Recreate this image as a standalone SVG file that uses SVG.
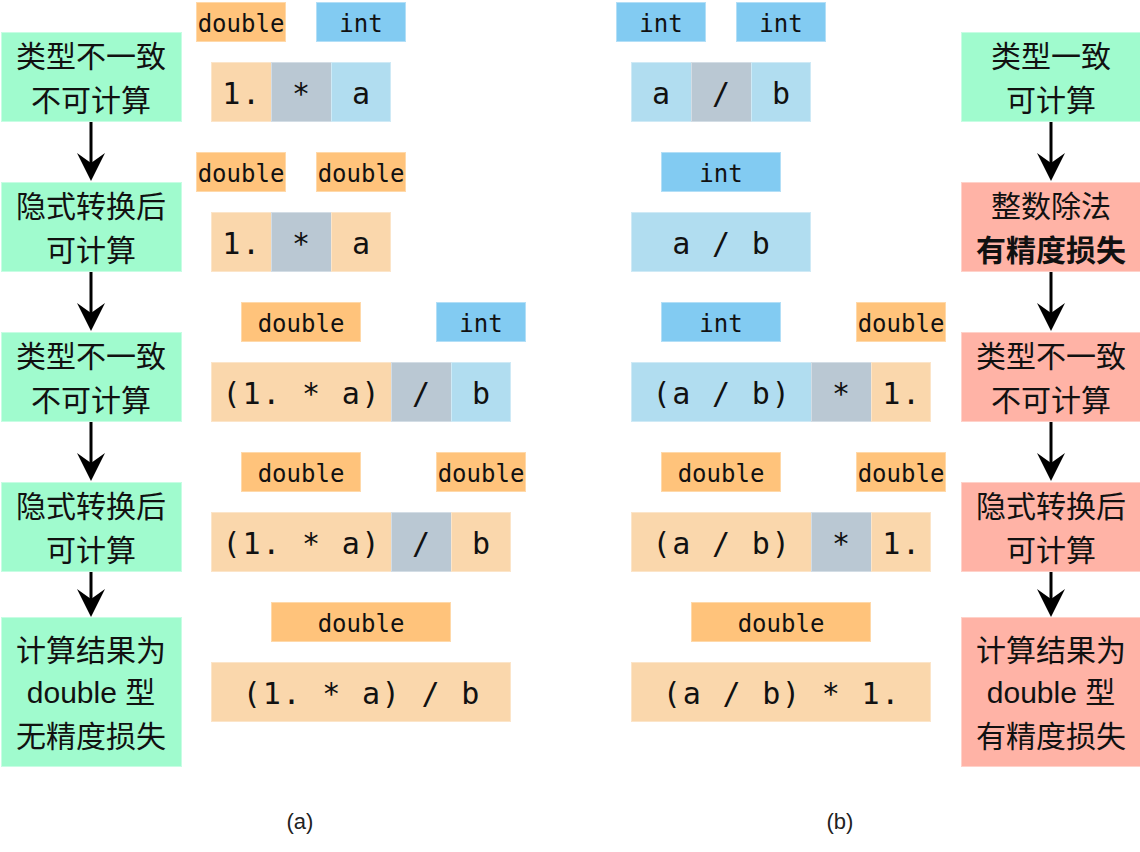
<svg xmlns="http://www.w3.org/2000/svg" width="1140" height="852" viewBox="0 0 1140 852">
<defs>
<style>
.g{fill:#a0fbce;stroke:#c8fde4;stroke-width:1}
.r{fill:#ffb3a6;stroke:#ffd2ca;stroke-width:1}
.to{fill:#ffc37b;stroke:#ffd9aa;stroke-width:1}
.tb{fill:#82cbf2;stroke:#b3dff7;stroke-width:1}
.eo{fill:#fad7ac;stroke:#fce5c9;stroke-width:1}
.eb{fill:#b1ddf0;stroke:#cfeaf6;stroke-width:1}
.eg{fill:#bac8d3;stroke:#d3dde5;stroke-width:1}
.cn{font-family:"Liberation Sans","Noto Sans CJK SC",sans-serif;font-size:30px;fill:#111;text-anchor:middle}
.b{font-weight:bold}
.tt{font-family:"DejaVu Sans Mono",monospace;font-size:24px;fill:#111;text-anchor:middle}
.ex{font-family:"DejaVu Sans Mono",monospace;font-size:30px;letter-spacing:1.8px;fill:#111;text-anchor:middle}
.cap{font-family:"Liberation Sans",sans-serif;font-size:22px;fill:#222;text-anchor:middle}
.ln{stroke:#000;stroke-width:3;fill:none}
</style>
</defs>
<rect width="1140" height="852" fill="#fff"/>

<g id="connectors">
<line class="ln" x1="91" y1="121" x2="91" y2="167"/><path d="M91,181 L77,153 L91,163 L105,153 Z"/>
<line class="ln" x1="91" y1="271" x2="91" y2="317"/><path d="M91,331 L77,303 L91,313 L105,303 Z"/>
<line class="ln" x1="91" y1="421" x2="91" y2="467"/><path d="M91,481 L77,453 L91,463 L105,453 Z"/>
<line class="ln" x1="91" y1="571" x2="91" y2="603"/><path d="M91,617 L77,589 L91,599 L105,589 Z"/>
<line class="ln" x1="1051" y1="121" x2="1051" y2="167"/><path d="M1051,181 L1037,153 L1051,163 L1065,153 Z"/>
<line class="ln" x1="1051" y1="271" x2="1051" y2="317"/><path d="M1051,331 L1037,303 L1051,313 L1065,303 Z"/>
<line class="ln" x1="1051" y1="421" x2="1051" y2="467"/><path d="M1051,481 L1037,453 L1051,463 L1065,453 Z"/>
<line class="ln" x1="1051" y1="571" x2="1051" y2="603"/><path d="M1051,617 L1037,589 L1051,599 L1065,589 Z"/>
</g>

<g id="a-step1"><rect class="g" x="1.5" y="32.5" width="180" height="89"/><text class="cn" x="91" y="67">类型不一致</text><text class="cn" x="91" y="111">不可计算</text></g>
<g id="a-step2"><rect class="g" x="1.5" y="182.5" width="180" height="89"/><text class="cn" x="91" y="217">隐式转换后</text><text class="cn" x="91" y="261">可计算</text></g>
<g id="a-step3"><rect class="g" x="1.5" y="332.5" width="180" height="89"/><text class="cn" x="91" y="367">类型不一致</text><text class="cn" x="91" y="411">不可计算</text></g>
<g id="a-step4"><rect class="g" x="1.5" y="482.5" width="180" height="89"/><text class="cn" x="91" y="517">隐式转换后</text><text class="cn" x="91" y="561">可计算</text></g>
<g id="a-step5"><rect class="g" x="1.5" y="617.5" width="180" height="149"/><text class="cn" x="91" y="661">计算结果为</text><text class="cn" x="91" y="703">double 型</text><text class="cn" x="91" y="747">无精度损失</text></g>

<g id="b-step1"><rect class="g" x="961.5" y="32.5" width="180" height="89"/><text class="cn" x="1051" y="67">类型一致</text><text class="cn" x="1051" y="111">可计算</text></g>
<g id="b-step2"><rect class="r" x="961.5" y="182.5" width="180" height="89"/><text class="cn" x="1051" y="217">整数除法</text><text class="cn b" x="1051" y="261">有精度损失</text></g>
<g id="b-step3"><rect class="r" x="961.5" y="332.5" width="180" height="89"/><text class="cn" x="1051" y="367">类型不一致</text><text class="cn" x="1051" y="411">不可计算</text></g>
<g id="b-step4"><rect class="r" x="961.5" y="482.5" width="180" height="89"/><text class="cn" x="1051" y="517">隐式转换后</text><text class="cn" x="1051" y="561">可计算</text></g>
<g id="b-step5"><rect class="r" x="961.5" y="617.5" width="180" height="149"/><text class="cn" x="1051" y="661">计算结果为</text><text class="cn" x="1051" y="703">double 型</text><text class="cn" x="1051" y="747">有精度损失</text></g>

<g id="a-row1">
<rect class="to" x="196.5" y="2.5" width="89" height="39"/><text class="tt" x="241" y="32">double</text>
<rect class="tb" x="316.5" y="2.5" width="89" height="39"/><text class="tt" x="361" y="32">int</text>
<rect class="eo" x="211.5" y="62.5" width="60" height="59"/><rect class="eg" x="271.5" y="62.5" width="60" height="59"/><rect class="eb" x="331.5" y="62.5" width="59" height="59"/>
<text class="ex" x="242" y="104">1.</text><text class="ex" x="302" y="104">*</text><text class="ex" x="362" y="104">a</text>
</g>
<g id="a-row2">
<rect class="to" x="196.5" y="152.5" width="89" height="39"/><text class="tt" x="241" y="182">double</text>
<rect class="to" x="316.5" y="152.5" width="89" height="39"/><text class="tt" x="361" y="182">double</text>
<rect class="eo" x="211.5" y="212.5" width="60" height="59"/><rect class="eg" x="271.5" y="212.5" width="60" height="59"/><rect class="eo" x="331.5" y="212.5" width="59" height="59"/>
<text class="ex" x="242" y="254">1.</text><text class="ex" x="302" y="254">*</text><text class="ex" x="362" y="254">a</text>
</g>
<g id="a-row3">
<rect class="to" x="241.5" y="302.5" width="119" height="39"/><text class="tt" x="301" y="332">double</text>
<rect class="tb" x="436.5" y="302.5" width="89" height="39"/><text class="tt" x="481" y="332">int</text>
<rect class="eo" x="211.5" y="362.5" width="180" height="59"/><rect class="eg" x="391.5" y="362.5" width="60" height="59"/><rect class="eb" x="451.5" y="362.5" width="59" height="59"/>
<text class="ex" x="302" y="404">(1. * a)</text><text class="ex" x="422" y="404">/</text><text class="ex" x="482" y="404">b</text>
</g>
<g id="a-row4">
<rect class="to" x="241.5" y="452.5" width="119" height="39"/><text class="tt" x="301" y="482">double</text>
<rect class="to" x="436.5" y="452.5" width="89" height="39"/><text class="tt" x="481" y="482">double</text>
<rect class="eo" x="211.5" y="512.5" width="180" height="59"/><rect class="eg" x="391.5" y="512.5" width="60" height="59"/><rect class="eo" x="451.5" y="512.5" width="59" height="59"/>
<text class="ex" x="302" y="554">(1. * a)</text><text class="ex" x="422" y="554">/</text><text class="ex" x="482" y="554">b</text>
</g>
<g id="a-row5">
<rect class="to" x="271.5" y="602.5" width="179" height="39"/><text class="tt" x="361" y="632">double</text>
<rect class="eo" x="211.5" y="662.5" width="299" height="59"/>
<text class="ex" x="362" y="704">(1. * a) / b</text>
</g>

<g id="b-row1">
<rect class="tb" x="616.5" y="2.5" width="89" height="39"/><text class="tt" x="661" y="32">int</text>
<rect class="tb" x="736.5" y="2.5" width="89" height="39"/><text class="tt" x="781" y="32">int</text>
<rect class="eb" x="631.5" y="62.5" width="60" height="59"/><rect class="eg" x="691.5" y="62.5" width="60" height="59"/><rect class="eb" x="751.5" y="62.5" width="59" height="59"/>
<text class="ex" x="662" y="104">a</text><text class="ex" x="722" y="104">/</text><text class="ex" x="782" y="104">b</text>
</g>
<g id="b-row2">
<rect class="tb" x="661.5" y="152.5" width="119" height="39"/><text class="tt" x="721" y="182">int</text>
<rect class="eb" x="631.5" y="212.5" width="179" height="59"/>
<text class="ex" x="722" y="254">a / b</text>
</g>
<g id="b-row3">
<rect class="tb" x="661.5" y="302.5" width="119" height="39"/><text class="tt" x="721" y="332">int</text>
<rect class="to" x="856.5" y="302.5" width="89" height="39"/><text class="tt" x="901" y="332">double</text>
<rect class="eb" x="631.5" y="362.5" width="180" height="59"/><rect class="eg" x="811.5" y="362.5" width="60" height="59"/><rect class="eo" x="871.5" y="362.5" width="59" height="59"/>
<text class="ex" x="722" y="404">(a / b)</text><text class="ex" x="842" y="404">*</text><text class="ex" x="902" y="404">1.</text>
</g>
<g id="b-row4">
<rect class="to" x="661.5" y="452.5" width="119" height="39"/><text class="tt" x="721" y="482">double</text>
<rect class="to" x="856.5" y="452.5" width="89" height="39"/><text class="tt" x="901" y="482">double</text>
<rect class="eo" x="631.5" y="512.5" width="180" height="59"/><rect class="eg" x="811.5" y="512.5" width="60" height="59"/><rect class="eo" x="871.5" y="512.5" width="59" height="59"/>
<text class="ex" x="722" y="554">(a / b)</text><text class="ex" x="842" y="554">*</text><text class="ex" x="902" y="554">1.</text>
</g>
<g id="b-row5">
<rect class="to" x="691.5" y="602.5" width="179" height="39"/><text class="tt" x="781" y="632">double</text>
<rect class="eo" x="631.5" y="662.5" width="299" height="59"/>
<text class="ex" x="782" y="704">(a / b) * 1.</text>
</g>

<g id="captions">
<text class="cap" x="300" y="829">(a)</text>
<text class="cap" x="840" y="829">(b)</text>
</g>
</svg>
